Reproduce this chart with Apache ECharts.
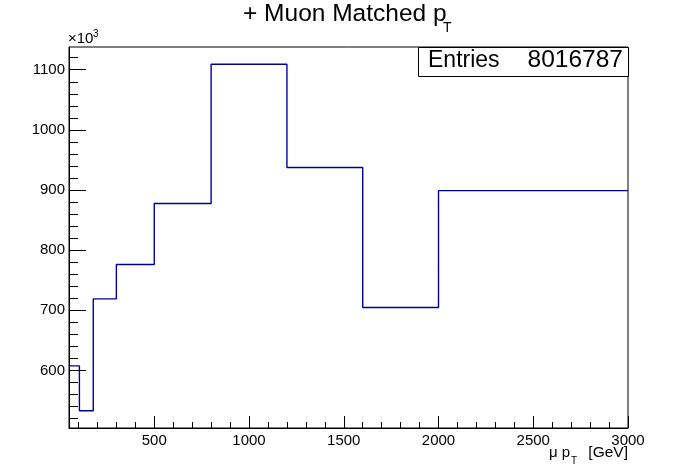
<!DOCTYPE html>
<html>
<head>
<meta charset="utf-8">
<script src="https://cdn.jsdelivr.net/npm/echarts@6/dist/echarts.min.js"></script>
<style>
  html, body { margin: 0; padding: 0; background: #fff; }
  #main { width: 698px; height: 476px; }
</style>
</head>
<body>
<div id="main"></div>
<script>
// bin edges in GeV (variable width), contents in units of 10^3
var binEdges = [50, 105, 178, 300, 500, 800, 1200, 1600, 2000, 3000];
var binCounts = [607.5, 533, 719, 776, 877.5, 1109, 937.5, 704.7, 899];
var xMajor = [500, 1000, 1500, 2000, 2500, 3000];
var xMinor = [100, 200, 300, 400, 600, 700, 800, 900, 1100, 1200, 1300, 1400, 1600, 1700, 1800, 1900,
              2100, 2200, 2300, 2400, 2600, 2700, 2800, 2900];
var yMajor = [600, 700, 800, 900, 1000, 1100];
var yMinor = [520, 540, 560, 580, 620, 640, 660, 680, 720, 740, 760, 780, 820, 840, 860, 880,
              920, 940, 960, 980, 1020, 1040, 1060, 1080, 1120];
var entries = '8016787';

var xMin = 50, xMax = 3000, yMin = 504.2, yMax = 1137.8;
var FONT = 'Liberation Sans';

// step outline: one point per left edge, plus the last right edge
var points = binEdges.map(function (e, i) {
    return [e, binCounts[Math.min(i, binCounts.length - 1)]];
});

function plain(v) { return String(v); }

var myChart = echarts.init(document.getElementById('main'));
var option = {
    animation: false,
    backgroundColor: '#fff',
    grid: { left: 69, right: 70, top: 47, bottom: 48, show: true, borderColor: '#000', borderWidth: 1 },
    xAxis: [
        {
            type: 'value', min: xMin, max: xMax,
            axisLine: { show: true, lineStyle: { color: '#000', width: 1 } },
            axisTick: { show: true, inside: true, length: 12, customValues: xMajor, lineStyle: { color: '#000' } },
            axisLabel: { customValues: xMajor, formatter: plain, color: '#000', fontFamily: FONT, fontSize: 15, margin: 5 },
            splitLine: { show: false }
        },
        {
            type: 'value', min: xMin, max: xMax, position: 'bottom',
            axisLine: { show: false },
            axisTick: { show: true, inside: true, length: 6, customValues: xMinor, lineStyle: { color: '#000' } },
            axisLabel: { show: false },
            splitLine: { show: false }
        }
    ],
    yAxis: [
        {
            type: 'value', min: yMin, max: yMax,
            axisLine: { show: true, lineStyle: { color: '#000', width: 1 } },
            axisTick: { show: true, inside: true, length: 17, customValues: yMajor, lineStyle: { color: '#000' } },
            axisLabel: { customValues: yMajor, formatter: plain, color: '#000', fontFamily: FONT, fontSize: 15, margin: 4 },
            splitLine: { show: false }
        },
        {
            type: 'value', min: yMin, max: yMax, position: 'left',
            axisLine: { show: false },
            axisTick: { show: true, inside: true, length: 9, customValues: yMinor, lineStyle: { color: '#000' } },
            axisLabel: { show: false },
            splitLine: { show: false }
        }
    ],
    series: [
        {
            type: 'line',
            step: 'end',
            data: points,
            symbol: 'none',
            lineStyle: { color: '#000099', width: 1.4 },
            z: 5
        }
    ],
    graphic: [
        // title
        { type: 'text', left: 243, top: 2, style: { text: '+ Muon Matched p', font: '24.5px "Liberation Sans"', fill: '#000' } },
        { type: 'text', left: 443, top: 21, style: { text: 'T', font: '14px "Liberation Sans"', fill: '#000' } },
        // exponent
        { type: 'text', left: 68, top: 31, style: { text: '\u00d710', font: '15px "Liberation Sans"', fill: '#000' } },
        { type: 'text', left: 93, top: 29, style: { text: '3', font: '10px "Liberation Sans"', fill: '#000' } },
        // x title
        { type: 'text', left: 549, top: 445, style: { text: '\u03bc p', font: '15px "Liberation Sans"', fill: '#000' } },
        { type: 'text', left: 571, top: 456, style: { text: 'T', font: '10px "Liberation Sans"', fill: '#000' } },
        { type: 'text', right: 70, top: 445, style: { text: '[GeV]', font: '15.5px "Liberation Sans"', fill: '#000' } },
        // stats box
        { type: 'rect', shape: { x: 418.5, y: 47.5, width: 210, height: 29 }, style: { fill: '#fff', stroke: '#000', lineWidth: 1 }, z: 10 },
        { type: 'text', left: 428, top: 49, z: 11, style: { text: 'Entries', font: '23px "Liberation Sans"', fill: '#000' } },
        { type: 'text', right: 75, top: 48, z: 11, style: { text: entries, font: '24.5px "Liberation Sans"', fill: '#000' } }
    ]
};
myChart.setOption(option);
</script>
</body>
</html>
